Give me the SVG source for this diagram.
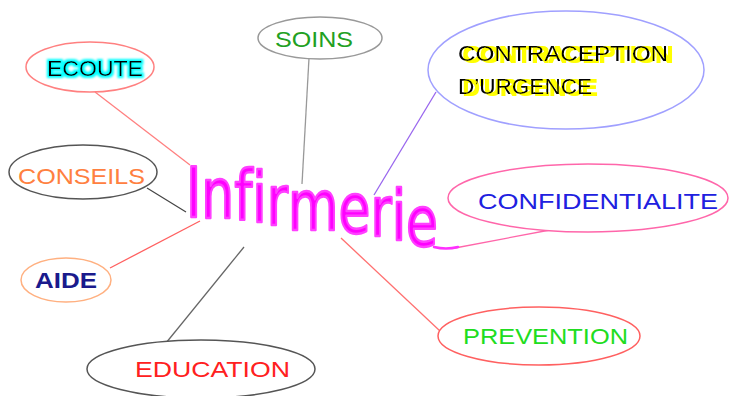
<svg xmlns="http://www.w3.org/2000/svg" width="729" height="396" viewBox="0 0 729 396">
<defs>
<filter id="yshadow" x="-10%" y="-30%" width="120%" height="160%">
<feMorphology in="SourceAlpha" operator="dilate" radius="1" result="d"/>
<feOffset in="d" dx="5" dy="1" result="o"/>
<feFlood flood-color="#ffff00"/>
<feComposite in2="o" operator="in" result="y"/>
<feMerge><feMergeNode in="y"/><feMergeNode in="SourceGraphic"/></feMerge>
</filter>
<filter id="cglow" x="-10%" y="-30%" width="120%" height="160%">
<feMorphology in="SourceAlpha" operator="dilate" radius="1.5" result="d"/>
<feGaussianBlur in="d" stdDeviation="1" result="b"/>
<feFlood flood-color="#00ffff"/>
<feComposite in2="b" operator="in" result="c"/>
<feMerge><feMergeNode in="c"/><feMergeNode in="SourceGraphic"/></feMerge>
</filter>
</defs>
<style>
.lbl{font-family:"Liberation Sans","DejaVu Sans",sans-serif;font-size:22px;}
.ell{fill:#fff;stroke-width:1.5;}
.con{fill:none;stroke-width:1.3;}
.cen{font-family:"DejaVu Sans","Liberation Sans",sans-serif;font-size:70px;fill:#ff00ff;stroke:#ff40ff;stroke-width:2.5;stroke-linejoin:round;stroke-linecap:round;}
</style>
<rect width="729" height="396" fill="#fff"/>
<g id="connectors">
<line class="con" x1="95" y1="92" x2="190" y2="165" stroke="#ff8080"/>
<line class="con" x1="309" y1="58" x2="302" y2="184" stroke="#999"/>
<line class="con" x1="436" y1="92" x2="374" y2="195" stroke="#9966ee"/>
<line class="con" x1="147" y1="188" x2="186" y2="212" stroke="#444"/>
<line class="con" x1="110" y1="268" x2="200" y2="221" stroke="#ff6060"/>
<line class="con" x1="550" y1="230" x2="455" y2="248" stroke="#ff66aa"/>
<line class="con" x1="166" y1="343" x2="244" y2="247" stroke="#666"/>
<line class="con" x1="440" y1="331" x2="341" y2="238" stroke="#ff7070"/>
</g>
<g id="infirmerie">
<text class="cen" x="186" y="217 218 220 222 225 230 233 236 240 246" textLength="252" lengthAdjust="spacingAndGlyphs">Infirmerie</text>
<path d="M434 247 Q446 250 458 247" fill="none" stroke="#ff30ff" stroke-width="2.5" stroke-linecap="round"/>
</g>
<g id="ecoute">
<ellipse class="ell" cx="90" cy="67" rx="64" ry="25" stroke="#ff8080"/>
<text class="lbl" x="47" y="76" textLength="96" lengthAdjust="spacingAndGlyphs" fill="#000" filter="url(#cglow)">ECOUTE</text>
</g>
<g id="soins">
<ellipse class="ell" cx="320" cy="38" rx="62" ry="21" stroke="#999"/>
<text class="lbl" x="275" y="47" textLength="78" lengthAdjust="spacingAndGlyphs" fill="#22a022">SOINS</text>
</g>
<g id="contraception">
<ellipse class="ell" cx="566" cy="70" rx="138" ry="59" stroke="#a0a0ff"/>
<g filter="url(#yshadow)">
<text class="lbl" x="458" y="61" textLength="210" lengthAdjust="spacingAndGlyphs" fill="#000">CONTRACEPTION</text>
<text class="lbl" x="458" y="94" textLength="134" lengthAdjust="spacingAndGlyphs" fill="#000">D’URGENCE</text>
</g>
</g>
<g id="conseils">
<ellipse class="ell" cx="83" cy="172" rx="74" ry="27" stroke="#555"/>
<text class="lbl" x="18" y="184" textLength="127" lengthAdjust="spacingAndGlyphs" fill="#ff8040">CONSEILS</text>
</g>
<g id="aide">
<ellipse class="ell" cx="66" cy="280" rx="45" ry="22" stroke="#ffb080"/>
<text class="lbl" x="35" y="288" textLength="62" lengthAdjust="spacingAndGlyphs" fill="#1a1a8c" font-weight="bold">AIDE</text>
</g>
<g id="confidentialite">
<ellipse class="ell" cx="588" cy="198" rx="140" ry="34" stroke="#ff66aa"/>
<text class="lbl" x="478" y="209" textLength="240" lengthAdjust="spacingAndGlyphs" fill="#2020e0">CONFIDENTIALITE</text>
</g>
<g id="education">
<ellipse class="ell" cx="201" cy="369" rx="114" ry="29" stroke="#555"/>
<text class="lbl" x="135" y="377" textLength="155" lengthAdjust="spacingAndGlyphs" fill="#ff2020">EDUCATION</text>
</g>
<g id="prevention">
<ellipse class="ell" cx="539" cy="336" rx="101" ry="29" stroke="#ff6060"/>
<text class="lbl" x="463" y="344" textLength="165" lengthAdjust="spacingAndGlyphs" fill="#20dd20">PREVENTION</text>
</g>
</svg>
